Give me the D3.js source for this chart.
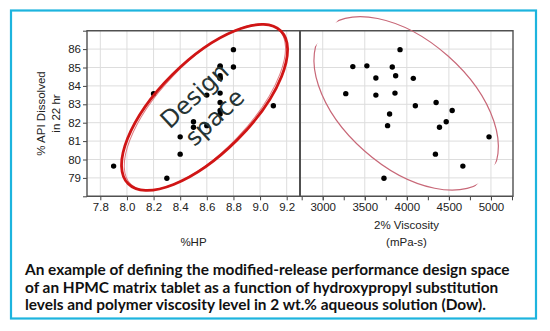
<!DOCTYPE html>
<html><head><meta charset="utf-8">
<script src="https://cdn.jsdelivr.net/npm/d3@7"></script>
<style>body{margin:0;background:#fff} svg{display:block}</style>
</head><body><svg id="c" width="550" height="331"></svg>
<script>
// ---- data ----
const hpTicks = [7.8, 8.0, 8.2, 8.4, 8.6, 8.8, 9.0, 9.2];
const viscTicks = [3000, 3500, 4000, 4500, 5000];
const viscMinorTicks = [2750, 3000, 3250, 3500, 3750, 4000, 4250, 4500, 4750, 5000, 5250];
const apiTicks = [79, 80, 81, 82, 83, 84, 85, 86];
const apiEndTicks = [78, 87];

const hp   = [8.8, 8.7, 8.7, 8.8, 8.7, 8.7, 8.7, 8.2, 8.6, 8.7, 9.1, 8.7, 8.7, 8.7, 8.5, 8.6, 8.5, 8.4, 8.4, 7.9, 8.3];
const visc = [3919, 3358, 3525, 3827, 3867, 3632, 4077, 3274, 3632, 3859, 4101, 4348, 4539, 3795, 4468, 3771, 4388, 4977, 4340, 4666, 3728];
const api  = [85.97, 85.05, 85.09, 85.03, 84.55, 84.43, 84.41, 83.58, 83.5, 83.61, 82.92, 83.1, 82.66, 82.47, 82.05, 81.84, 81.75, 81.23, 80.29, 79.64, 78.98];

const yTitle = ["% API Dissolved", "in 22 hr"];
const xTitleLeft = ["%HP"];
const xTitleRight = ["2% Viscosity", "(mPa-s)"];
const designLabel = ["Design", "space"];
const designCenter = [8.583, 82.83];   // [%HP, %API]
const viscEllipseCenter = [3992, 83.05]; // [visc, %API]
const caption = [
  "An example of defining the modified-release performance design space",
  "of an HPMC matrix tablet as a function of hydroxypropyl substitution",
  "levels and polymer viscosity level in 2 wt.% aqueous solution (Dow)."
];

// ---- layout ----
const svg = d3.select("#c");
const T = 30.7, B = 196.3, L0 = 87, L1 = 300, R1 = 513;
const x1 = d3.scaleLinear().domain([7.7, 9.3]).range([L0, L1]);
const x2 = d3.scaleLinear().domain([2730, 5262]).range([L1, R1]);
const y = d3.scaleLinear().domain([78, 87]).range([B, T]);
const axisFont = "'Liberation Sans', Arial, sans-serif";

svg.append("rect").attr("x", 11).attr("y", 10.5).attr("width", 525).attr("height", 308)
  .attr("fill", "#fff").attr("stroke", "#1db4de").attr("stroke-width", 2.2);

// grid
const grid = svg.append("g").attr("stroke", "#dddddd").attr("stroke-width", 1);
grid.selectAll(".gv1").data(hpTicks).join("line")
  .attr("x1", d => x1(d)).attr("x2", d => x1(d)).attr("y1", T).attr("y2", B);
grid.selectAll(".gv2").data(viscTicks).join("line")
  .attr("x1", d => x2(d)).attr("x2", d => x2(d)).attr("y1", T).attr("y2", B);
grid.selectAll(".gh").data(apiTicks).join("line")
  .attr("x1", L0).attr("x2", R1).attr("y1", d => y(d)).attr("y2", d => y(d));

// axes
const yAxis = svg.append("g").attr("transform", `translate(${L0},0)`)
  .call(d3.axisLeft(y).tickValues(apiTicks).tickSize(4).tickPadding(2).tickFormat(d3.format("d")));
svg.append("g").attr("transform", `translate(${L0},0)`)
  .call(d3.axisLeft(y).tickValues(apiEndTicks).tickSize(4).tickFormat(""));
const xa1 = svg.append("g").attr("transform", `translate(0,${B})`)
  .call(d3.axisBottom(x1).tickValues(hpTicks).tickSize(4).tickPadding(2.5).tickFormat(d3.format(".1f")));
const xa2 = svg.append("g").attr("transform", `translate(0,${B})`)
  .call(d3.axisBottom(x2).tickValues(viscTicks).tickSize(4).tickPadding(2.5).tickFormat(d3.format("d")));
svg.append("g").attr("transform", `translate(0,${B})`)
  .call(d3.axisBottom(x2).tickValues(viscMinorTicks).tickSize(4).tickFormat(""));
svg.selectAll(".domain").remove();
svg.selectAll(".tick line").attr("stroke", "#444");
svg.selectAll(".tick text").attr("font-family", axisFont).attr("font-size", 11.5).attr("fill", "#222");

// frame
const frame = svg.append("g").attr("stroke", "#505050").attr("fill", "none");
frame.append("path").attr("stroke-width", 1.4).attr("d", `M${L0},${T}H${R1}V${B}H${L0}Z`);
frame.append("line").attr("stroke-width", 2).attr("x1", L1).attr("x2", L1).attr("y1", T).attr("y2", B);

// clip for right panel
svg.append("clipPath").attr("id", "clipR").append("rect")
  .attr("x", L1).attr("y", T).attr("width", R1 - L1).attr("height", B - T);

// right ellipse
svg.append("ellipse").attr("clip-path", "url(#clipR)")
  .attr("cx", x2(viscEllipseCenter[0])).attr("cy", y(viscEllipseCenter[1]))
  .attr("rx", 109.7).attr("ry", 63.2)
  .attr("transform", `rotate(41.5 ${x2(viscEllipseCenter[0])} ${y(viscEllipseCenter[1])})`)
  .attr("fill", "none").attr("stroke", "#c86878").attr("stroke-width", 1.2);

// points
svg.append("g").selectAll("circle").data(hp).join("circle")
  .attr("cx", d => x1(d)).attr("cy", (d, i) => y(api[i])).attr("r", 2.7).attr("fill", "#000");
svg.append("g").selectAll("circle").data(visc).join("circle")
  .attr("cx", d => x2(d)).attr("cy", (d, i) => y(api[i])).attr("r", 2.7).attr("fill", "#000");

// left ellipse (hand drawn annotation)
const ecx = x1(designCenter[0]), ecy = y(designCenter[1]);
svg.append("ellipse").attr("cx", ecx + 0.5).attr("cy", ecy).attr("rx", 107).attr("ry", 44.5)
  .attr("transform", `rotate(-46.3 ${ecx} ${ecy})`)
  .attr("fill", "none").attr("stroke", "#e07a80").attr("stroke-width", 1);
svg.append("ellipse").attr("cx", ecx).attr("cy", ecy).attr("rx", 108).attr("ry", 46)
  .attr("transform", `rotate(-45 ${ecx} ${ecy})`)
  .attr("fill", "none").attr("stroke", "#d01515").attr("stroke-width", 2.8);

// Design space label
const dg = svg.append("g").attr("transform", `translate(${ecx + 1},${ecy}) rotate(-43)`);
dg.selectAll("text").data(designLabel).join("text")
  .attr("x", 0).attr("y", (d, i) => -8 + i * 29.5)
  .attr("text-anchor", "middle").attr("font-family", "'DejaVu Sans', sans-serif")
  .attr("font-size", 24).attr("fill", "#263434").text(d => d);

// axis titles
svg.append("g").attr("transform", `translate(41,${(T + B) / 2}) rotate(-90)`)
  .selectAll("text").data(yTitle).join("text")
  .attr("x", 0).attr("y", (d, i) => 4 + i * 15)
  .attr("text-anchor", "middle").attr("font-family", axisFont).attr("font-size", 11.5).attr("fill", "#222")
  .text(d => d);
svg.append("g").selectAll("text").data(xTitleLeft).join("text")
  .attr("x", (L0 + L1) / 2).attr("y", 246)
  .attr("text-anchor", "middle").attr("font-family", axisFont).attr("font-size", 11.5).attr("fill", "#222")
  .text(d => d);
svg.append("g").selectAll("text").data(xTitleRight).join("text")
  .attr("x", (L1 + R1) / 2).attr("y", (d, i) => 229 + i * 17)
  .attr("text-anchor", "middle").attr("font-family", axisFont).attr("font-size", 11.5).attr("fill", "#222")
  .text(d => d);

// caption
const cap = svg.append("g").selectAll("text").data(caption).join("text")
  .attr("x", 25).attr("y", (d, i) => 275 + i * 17.5)
  .attr("font-family", "Lato, 'Open Sans', sans-serif").attr("font-weight", 700)
  .attr("font-size", 14).attr("fill", "#111").text(d => d);
const w0 = cap.nodes()[0].getComputedTextLength();
const fs = 14 * 485 / w0;
cap.attr("font-size", fs);
</script></body></html>
